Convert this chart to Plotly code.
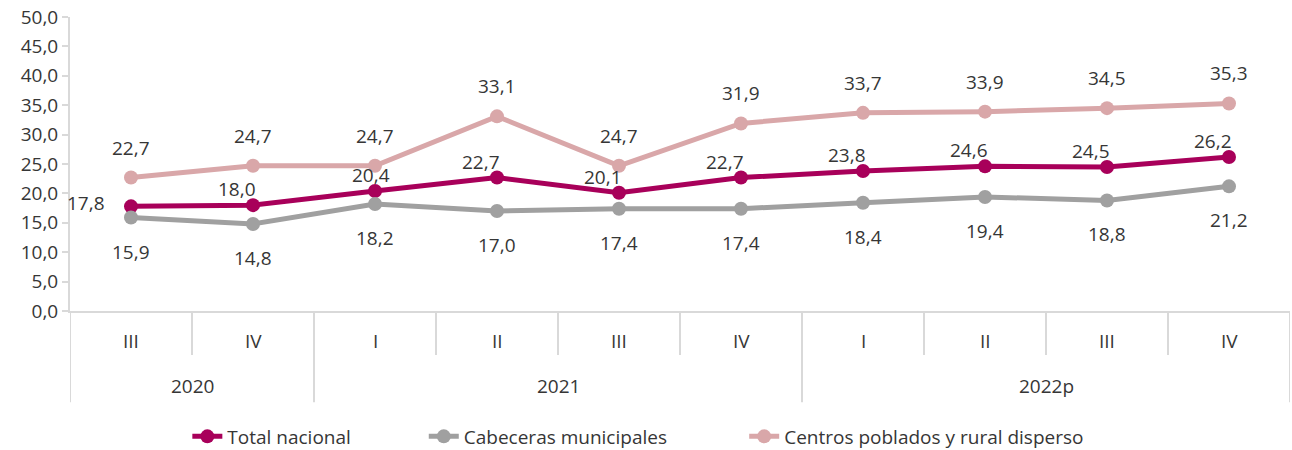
import plotly.graph_objects as go

years = ["2020", "2020", "2021", "2021", "2021", "2021", "2022p", "2022p", "2022p", "2022p"]
quarters = ["III", "IV", "I", "II", "III", "IV", "I", "II", "III", "IV"]
total_nacional = [17.8, 18.0, 20.4, 22.7, 20.1, 22.7, 23.8, 24.6, 24.5, 26.2]
cabeceras = [15.9, 14.8, 18.2, 17.0, 17.4, 17.4, 18.4, 19.4, 18.8, 21.2]
centros = [22.7, 24.7, 24.7, 33.1, 24.7, 31.9, 33.7, 33.9, 34.5, 35.3]

cats = [f"{y} {q}" for y, q in zip(years, quarters)]

FONT = "Open Sans"
TXT = "#363636"
AXIS = "#D9D9D9"

series = [
    ("Total nacional", total_nacional, "#A8005A", "legend", 0.145),
    ("Cabeceras municipales", cabeceras, "#A0A0A0", "legend2", 0.328),
    ("Centros poblados y rural disperso", centros, "#D9A7A9", "legend3", 0.576),
]

fig = go.Figure()
for name, vals, col, leg, _ in series:
    fig.add_trace(go.Scatter(
        x=cats, y=vals, mode="lines+markers", name=name, legend=leg,
        line=dict(color=col, width=5),
        marker=dict(color=col, size=14),
    ))

ann = []
fmt = lambda v: f"{v:.1f}".replace(".", ",")

# etiquetas de datos
for i, (c, v) in enumerate(zip(cats, total_nacional)):
    if i == 0:
        xs, ys = -45, 3
    elif i == 2:
        xs, ys = -4, 16
    else:
        xs, ys = -16, 16
    ann.append(dict(x=c, y=v, text=fmt(v), showarrow=False, xshift=xs, yshift=ys))
for c, v in zip(cats, cabeceras):
    ann.append(dict(x=c, y=v, text=fmt(v), showarrow=False, yshift=-34))
for c, v in zip(cats, centros):
    ann.append(dict(x=c, y=v, text=fmt(v), showarrow=False, yshift=30))

# eje x en dos niveles
for c, q in zip(cats, quarters):
    ann.append(dict(x=c, y=-0.102, yref="paper", yanchor="middle", text=q, showarrow=False))
groups = {}
for i, y in enumerate(years):
    groups.setdefault(y, []).append(i)
for y, idx in groups.items():
    mid = (idx[0] + idx[-1]) / 2
    ann.append(dict(x=mid, y=-0.255, yref="paper", yanchor="middle", text=y, showarrow=False))

shapes = []
for i in range(len(cats) + 1):
    is_year = i == 0 or i == len(cats) or years[i] != years[i - 1]
    shapes.append(dict(
        type="line", xref="x", yref="paper", x0=i - 0.5, x1=i - 0.5,
        y0=0, y1=-0.31 if is_year else -0.15,
        line=dict(color=AXIS, width=2),
    ))

legends = {}
for name, vals, col, leg, xpos in series:
    legends[leg] = dict(orientation="h", x=xpos, xanchor="left", xref="container",
                        yref="container", y=0.03, yanchor="middle",
                        font=dict(size=19), bgcolor="rgba(0,0,0,0)")

fig.update_layout(
    width=1292, height=450,
    margin=dict(l=70, r=2, t=17, b=139, autoexpand=False),
    plot_bgcolor="white", paper_bgcolor="white",
    font=dict(family=FONT, size=19, color=TXT),
    separators=",.",
    showlegend=True,
    annotations=ann, shapes=shapes,
    xaxis=dict(range=[-0.5, 9.5], showticklabels=False, showgrid=False,
               showline=True, linecolor=AXIS, linewidth=2, ticks="", zeroline=False,
               automargin=False),
    yaxis=dict(range=[0, 50], dtick=5, tickformat=".1f", showgrid=False,
               showline=True, linecolor=AXIS, linewidth=2, ticks="outside",
               ticklen=6, tickcolor=AXIS, tickwidth=2, zeroline=False,
               tickfont=dict(size=19), automargin=False),
    **legends,
)

fig.write_html("out.html", config={"displayModeBar": False},
               post_script="document.body.style.margin='0';")
